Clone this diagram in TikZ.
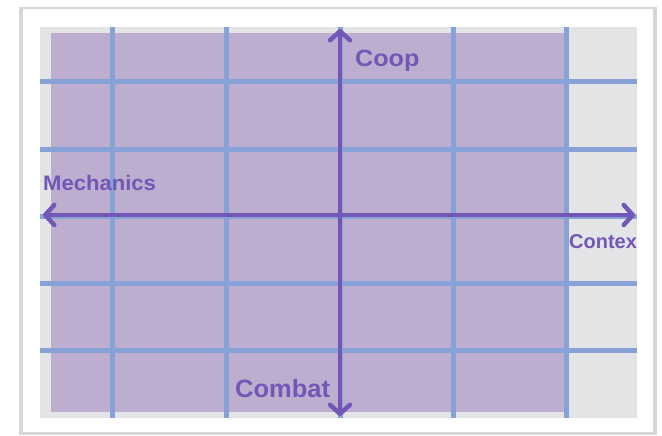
\documentclass[tikz,border=0pt]{standalone}
\usepackage{fontspec}
\usepackage{graphicx}
\setmainfont{Liberation Sans}
\usetikzlibrary{arrows.meta}
\definecolor{gridblue}{HTML}{86A2D6}
\definecolor{cellpurple}{HTML}{BDAED0}
\definecolor{bggray}{HTML}{E3E4E6}
\definecolor{axispurple}{HTML}{7257B6}
\definecolor{framegray}{HTML}{BDBDBD}
\tikzset{
  gridline/.style={draw=gridblue, line width=5pt},
  axis/.style={draw=axispurple, line width=4.5pt,
    {Straight Barb[length=9pt,width=20pt,round]}-{Straight Barb[length=9pt,width=20pt,round]}},
  axislabel/.style={text=axispurple, anchor=base west, inner sep=0pt},
}
\begin{document}
\begin{tikzpicture}[x=1pt,y=-1pt]
\useasboundingbox (0,0) rectangle (662,436);
\fill[white] (0,0) rectangle (662,436);
% photo frame
\fill[framegray!60] (19,7) rectangle (657,435);
\fill[white] (23,9) rectangle (653,432);
% background and purple area
\fill[bggray] (40,27) rectangle (637,418);
\fill[cellpurple] (51,33) rectangle (565,412);
% grid lines
\foreach \x in {112,226,340,453,566}
  \draw[gridline] (\x,27) -- (\x,418);
\foreach \y in {82,149,216,283,350}
  \draw[gridline] (40,\y) -- (637,\y);
% axes
\coordinate (top) at (340,29);
\coordinate (bottom) at (340,416);
\coordinate (left) at (43,215);
\coordinate (right) at (635,215);
\draw[axis] (bottom) -- (top);
\draw[axis] (left) -- (right);
% labels
\node[axislabel, font=\fontsize{23.5}{27}\selectfont\bfseries] (coop) at (355,67) {\scalebox{1.07}[1]{Coop}};
\node[axislabel, font=\fontsize{21}{24}\selectfont\bfseries] (mech) at (43,190) {\scalebox{1.05}[1]{Mechanics}};
\node[axislabel, font=\fontsize{20}{23}\selectfont\bfseries] (ctx) at (569,248) {Contex};
\node[axislabel, font=\fontsize{25}{28}\selectfont\bfseries] (combat) at (235,397) {\scalebox{1.02}[1]{Combat}};
\end{tikzpicture}
\end{document}
